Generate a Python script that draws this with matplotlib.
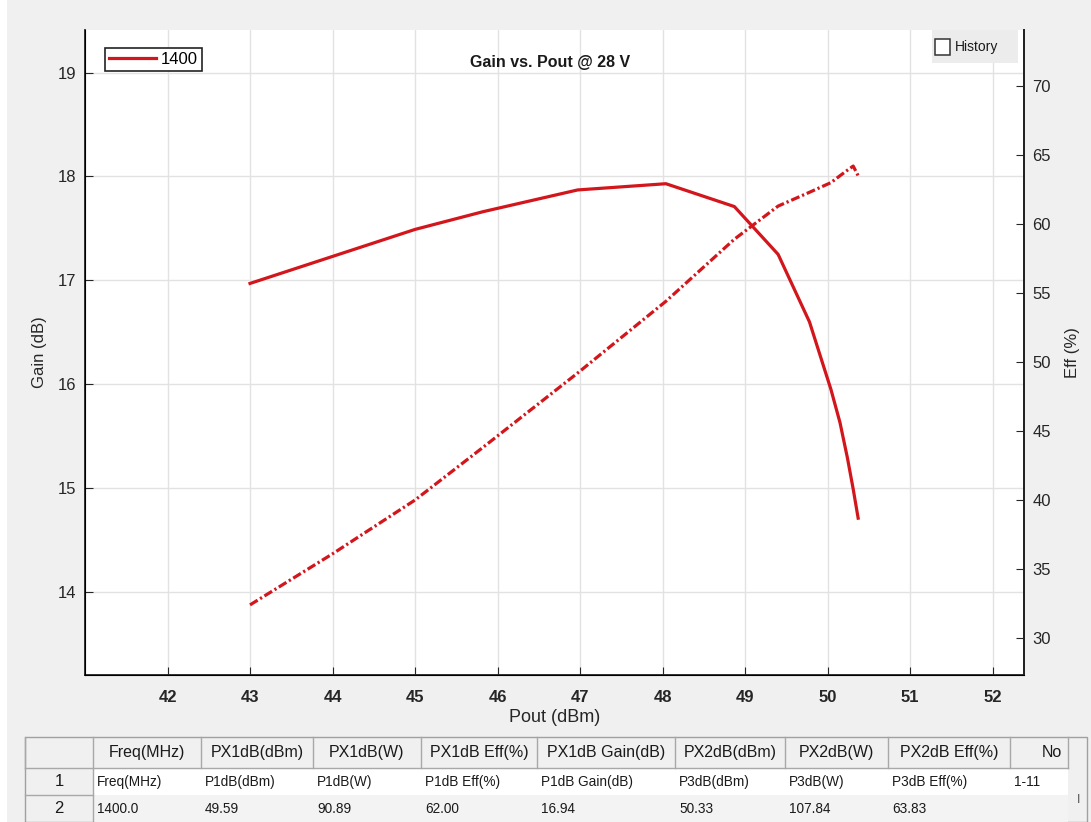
import matplotlib
matplotlib.use("Agg")
import matplotlib.pyplot as plt
from matplotlib.patches import Rectangle

plt.rcParams['font.family'] = ['Liberation Sans', 'DejaVu Sans']

# curve data
pout = [43.0, 44.0, 45.0, 45.82, 46.97, 48.04, 48.87, 49.40, 49.78, 50.04, 50.15, 50.24, 50.31, 50.37]
gain = [16.97, 17.23, 17.49, 17.66, 17.87, 17.93, 17.71, 17.25, 16.60, 15.95, 15.63, 15.29, 14.99, 14.71]
eff = [32.4, 36.1, 40.0, 43.8, 49.2, 54.4, 58.9, 61.3, 62.3, 63.0, 63.5, 63.9, 64.2, 63.5]

x_ticks = [42, 43, 44, 45, 46, 47, 48, 49, 50, 51, 52]
gain_ticks = [14, 15, 16, 17, 18, 19]
eff_ticks = [30, 35, 40, 45, 50, 55, 60, 65, 70]

# summary table
col_labels = ["Freq(MHz)", "PX1dB(dBm)", "PX1dB(W)", "PX1dB Eff(%)", "PX1dB Gain(dB)",
              "PX2dB(dBm)", "PX2dB(W)", "PX2dB Eff(%)", "No"]
row_labels = ["1", "2"]
rows = [["Freq(MHz)", "P1dB(dBm)", "P1dB(W)", "P1dB Eff(%)", "P1dB Gain(dB)",
         "P3dB(dBm)", "P3dB(W)", "P3dB Eff(%)", "1-11"],
        ["1400.0", "49.59", "90.89", "62.00", "16.94", "50.33", "107.84", "63.83", ""]]

RED = '#d2161b'
W, H = 1091, 822

fig = plt.figure(figsize=(W / 100, H / 100), dpi=100, facecolor='#f0f0f0')
fig.patches.append(Rectangle((0, 0), 7 / W, 1, transform=fig.transFigure,
                             facecolor='white', edgecolor='none'))

def fx(px):
    return px / W

def fy(py):
    return 1 - py / H

ax = fig.add_axes([fx(85), fy(675), fx(1024 - 85), (675 - 30) / H])
ax.set_facecolor('white')
ax.set_xlim(41, 52.38)
ax.set_ylim(13.2, 19.41)
ax.set_xticks(x_ticks)
ax.set_yticks(gain_ticks)
ax.grid(True, color='#e2e2e2', linewidth=1)
ax.set_axisbelow(True)
ax.tick_params(axis='x', direction='in', length=6, pad=11, labelsize=12, colors='#262626')
ax.tick_params(axis='y', direction='in', length=6, pad=6, labelsize=12, colors='#262626')
for lab in ax.get_xticklabels():
    lab.set_fontweight('bold')
for s in ['left', 'bottom', 'right']:
    ax.spines[s].set_color('#222222')
    ax.spines[s].set_linewidth(1.3)
ax.spines['top'].set_visible(False)
ax.set_xlabel('Pout (dBm)', fontsize=13, labelpad=3, color='#262626')
ax.set_ylabel('Gain (dB)', fontsize=12, labelpad=8, color='#262626')

gain_line, = ax.plot(pout, gain, color=RED, linewidth=2.3)

ax2 = ax.twinx()
ax2.set_ylim(27.32, 74.06)
ax2.set_yticks(eff_ticks)
ax2.tick_params(axis='y', direction='in', length=6, pad=6, labelsize=12, colors='#262626')
ax2.spines['top'].set_visible(False)
ax2.spines['right'].set_color('#222222')
ax2.spines['right'].set_linewidth(1.3)
ax2.set_ylabel('Eff (%)', fontsize=12, labelpad=10, color='#262626')
ax2.plot(pout, eff, color=RED, linewidth=2.3, linestyle=(0, (2.8, 0.9, 0.7, 0.9)))

ax2.text(0.495, 0.95, 'Gain vs. Pout @ 28 V', transform=ax.transAxes, ha='center',
         va='center', fontsize=11.5, fontweight='bold', color='#1a1a1a')

leg = ax2.legend([gain_line], ['1400'], loc='upper left', bbox_to_anchor=(0.0213, 0.972),
                 borderaxespad=0, fontsize=12, handlelength=2.8, handletextpad=0.3,
                 borderpad=0.25, fancybox=False, framealpha=1, edgecolor='#222222')
leg.get_frame().set_linewidth(1.2)

# "History" checkbox in the top right corner
fig.patches.append(Rectangle((fx(932), fy(63)), fx(86), 33 / H, transform=fig.transFigure,
                             facecolor='#ececec', edgecolor='none', zorder=5))
fig.patches.append(Rectangle((fx(935), fy(55)), fx(15), 16 / H, transform=fig.transFigure,
                             facecolor='white', edgecolor='#333333', linewidth=1.1, zorder=6))
fig.text(fx(955), fy(47), 'History', fontsize=10, va='center', ha='left', color='#1a1a1a',
         zorder=7)

# table drawn in pixel coordinates
tab = fig.add_axes([0, 0, 1, 1], zorder=10)
tab.set_xlim(0, W)
tab.set_ylim(H, 0)
tab.axis('off')
bounds = [25, 93, 201, 313, 421, 537, 675, 785, 888, 1010, 1068]
row_y = [737, 768, 795, 822]
tab.add_patch(Rectangle((25, 737), 1087 - 25, 85, facecolor='#f0f0f0', edgecolor='#a0a0a0',
                        linewidth=1))
tab.add_patch(Rectangle((93, 768), 1068 - 93, 27, facecolor='white', edgecolor='none'))
tab.add_patch(Rectangle((93, 795), 1068 - 93, 27, facecolor='#f3f3f3', edgecolor='none'))
for b in bounds:
    tab.plot([b, b], [737, 768], color='#a8a8a8', linewidth=1)
tab.plot([93, 93], [768, 822], color='#a8a8a8', linewidth=1)
tab.plot([25, 1068], [768, 768], color='#a8a8a8', linewidth=1)
tab.plot([25, 93], [795, 795], color='#a8a8a8', linewidth=1)
tab.text(1079, 800, 'I', fontsize=9, color='#555555', ha='center', va='center')

for i, lab in enumerate(col_labels):
    xc = (bounds[i + 1] + bounds[i + 2]) / 2
    if lab == 'No':
        xc = 1052
    tab.text(xc, (row_y[0] + row_y[1]) / 2, lab, fontsize=11.5, ha='center', va='center',
             color='#1a1a1a')
for r, lab in enumerate(row_labels):
    yc = (row_y[r + 1] + row_y[r + 2]) / 2
    tab.text(59, yc, lab, fontsize=12, ha='center', va='center', color='#1a1a1a')
    for i, val in enumerate(rows[r]):
        tab.text(bounds[i + 1] + 4, yc, val, fontsize=9.8, ha='left', va='center',
                 color='#1a1a1a')

fig.savefig('out.png', dpi=100, facecolor=fig.get_facecolor())
